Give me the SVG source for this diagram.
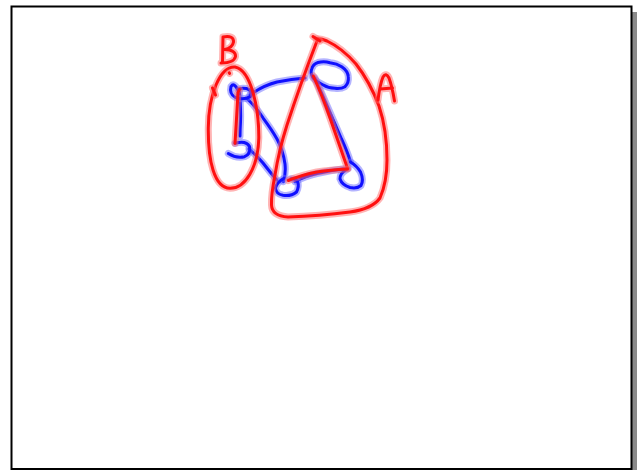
<svg xmlns="http://www.w3.org/2000/svg" xmlns:xlink="http://www.w3.org/1999/xlink" width="639" height="470" viewBox="0 0 639 470">
<style>
.halo-r{fill:none;stroke:#ff6a6a;stroke-opacity:0.5;stroke-width:7;stroke-linecap:round;stroke-linejoin:round}
.core-r{fill:none;stroke:#ff1010;stroke-width:3;stroke-linecap:round;stroke-linejoin:round}
.halo-b{fill:none;stroke:#6a6aff;stroke-opacity:0.5;stroke-width:7;stroke-linecap:round;stroke-linejoin:round}
.core-b{fill:none;stroke:#1010ff;stroke-width:3;stroke-linecap:round;stroke-linejoin:round}
</style>
<defs>
<path id="pBlueArc" d="M250,95 Q262,86 277,82 Q292,79 305,78"/>
<path id="pBlueB1" d="M247.5,99 Q256,107 263.3,118.3 Q272,130 277,139 Q283,150 285,164 Q286,174 283.3,181.7"/>
<path id="pBlueB2" d="M249,149 Q258,157 263,163 Q270,172 276.7,180"/>
<path id="pBlueBv" d="M239.5,92 Q241,110 240.5,122 Q240,130 240,136"/>
<path id="pBlueRight" d="M315,78 Q332,117 341.5,139 Q347.5,152 350.5,162"/>
<path id="pBlueBottom" d="M295,181.7 Q305,176 317,173.5 Q333,170 348.3,168.3"/>
<path id="nTR" d="M313.3,78.3 Q310,73 311.7,69 Q313,64 318,62.5 Q324,61 330,62.7 Q337,63.5 341.7,66.7 Q348,71 348.3,76.7 Q349,83 345,86.7 Q341,89 335,88.3 Q328,88 323.3,85 Q317,82 313.3,78.3"/>
<path id="nBR" d="M350.5,162 Q357,166 360.5,172 Q364,180 361,185.5 Q357,189 350,187.5 Q342,185 340,179 Q340,173 346,170"/>
<path id="nBM" d="M284,178.3 Q277,182 275.5,188 Q276,194 283,195.3 Q291,196.5 296.5,192 Q299.5,186 297.5,181.5 Q295,178.5 291,178.8"/>
<path id="nBT" d="M238,90 Q234,82 231,86.5 Q229,94 235.5,97.5 Q244,100.5 250.5,96.5 Q253,90.5 246.5,88.5 Q240.5,87.5 237.5,89.5"/>
<path id="nBB" d="M235,143.3 Q246,140 249.5,146.5 Q251,154 244.5,156.7 Q236,158.5 228.3,153.5"/>
<path id="hullA" d="M316.7,41.7 Q300,85 287,125 Q279,150 275,175 Q271,195 271.5,205 Q272,216 288,217 Q320,216 350,212 Q372,209 380,198 Q387,182 387,160 Q387,130 379,106 Q370,82 356,64 Q342,48 327,41 Q320,38 316,39"/>
<path id="hullATick" d="M313,36.5 L320,41"/>
<path id="hullB" d="M235,67 C251,70 259,108 258.8,138 C258,168 245,188.5 230,188.3 C214,188 208,160 208.3,128 C208.5,95 220,66 235,67"/>
<path id="hullBTick" d="M212.5,88 L215.5,95"/>
<path id="hullBDot" d="M229.3,72.8 L229.6,73.4"/>
<path id="redBv" d="M239.5,89.5 Q237.5,92 237.8,96 Q236.5,120 235,143.3"/>
<path id="redRight" d="M313.3,76 Q322,95 330,118 Q339,144 347.5,168.3"/>
<path id="redBottom" d="M347.5,169 Q330,170 316.7,172 Q300,175.5 288.3,180.5"/>
<path id="lblB" d="M223,37 L222.5,62.5 M223,37 Q234,35 233.5,42 Q232.5,48 224.5,49.5 Q236,50 235.5,56.5 Q234,63 221,63"/>
<path id="lblA" d="M378,100 Q380,84 383,77 Q386,72 389,78 Q392,86 394.5,101 M380.5,89 L392.5,88"/>
</defs>
<g id="frame">
<rect x="632" y="12" width="5" height="458" fill="#8a8a8a"/>
<rect x="11.5" y="6.5" width="620" height="462.5" fill="#ffffff" stroke="#000000" stroke-width="2"/>
</g>
<g id="connectors">
<use xlink:href="#pBlueArc" class="halo-b"/><use xlink:href="#pBlueArc" class="core-b"/>
<use xlink:href="#pBlueB1" class="halo-b"/><use xlink:href="#pBlueB1" class="core-b"/>
<use xlink:href="#pBlueB2" class="halo-b"/><use xlink:href="#pBlueB2" class="core-b"/>
<use xlink:href="#pBlueBv" class="halo-b"/><use xlink:href="#pBlueBv" class="core-b"/>
<use xlink:href="#pBlueRight" class="halo-b"/><use xlink:href="#pBlueRight" class="core-b"/>
<use xlink:href="#pBlueBottom" class="halo-b"/><use xlink:href="#pBlueBottom" class="core-b"/>
</g>
<g id="node-top-right"><use xlink:href="#nTR" class="halo-b"/><use xlink:href="#nTR" class="core-b"/></g>
<g id="node-bottom-right"><use xlink:href="#nBR" class="halo-b"/><use xlink:href="#nBR" class="core-b"/></g>
<g id="node-bottom-middle"><use xlink:href="#nBM" class="halo-b"/><use xlink:href="#nBM" class="core-b"/></g>
<g id="node-b-top"><use xlink:href="#nBT" class="halo-b"/><use xlink:href="#nBT" class="core-b"/></g>
<g id="node-b-bottom"><use xlink:href="#nBB" class="halo-b"/><use xlink:href="#nBB" class="core-b"/></g>
<g id="red-edges">
<use xlink:href="#redBv" class="halo-r"/><use xlink:href="#redBv" class="core-r"/>
<use xlink:href="#redRight" class="halo-r"/><use xlink:href="#redRight" class="core-r"/>
<use xlink:href="#redBottom" class="halo-r"/><use xlink:href="#redBottom" class="core-r"/>
</g>
<g id="group-A">
<use xlink:href="#hullA" class="halo-r"/><use xlink:href="#hullA" class="core-r"/>
<use xlink:href="#hullATick" class="halo-r"/><use xlink:href="#hullATick" class="core-r"/>
<use xlink:href="#lblA" class="halo-r"/><use xlink:href="#lblA" class="core-r"/>
</g>
<g id="group-B">
<use xlink:href="#hullB" class="halo-r"/><use xlink:href="#hullB" class="core-r"/>
<use xlink:href="#hullBTick" class="halo-r"/><use xlink:href="#hullBTick" class="core-r"/>
<use xlink:href="#hullBDot" class="halo-r"/><use xlink:href="#hullBDot" class="core-r"/>
<use xlink:href="#lblB" class="halo-r"/><use xlink:href="#lblB" class="core-r"/>
</g>
</svg>
